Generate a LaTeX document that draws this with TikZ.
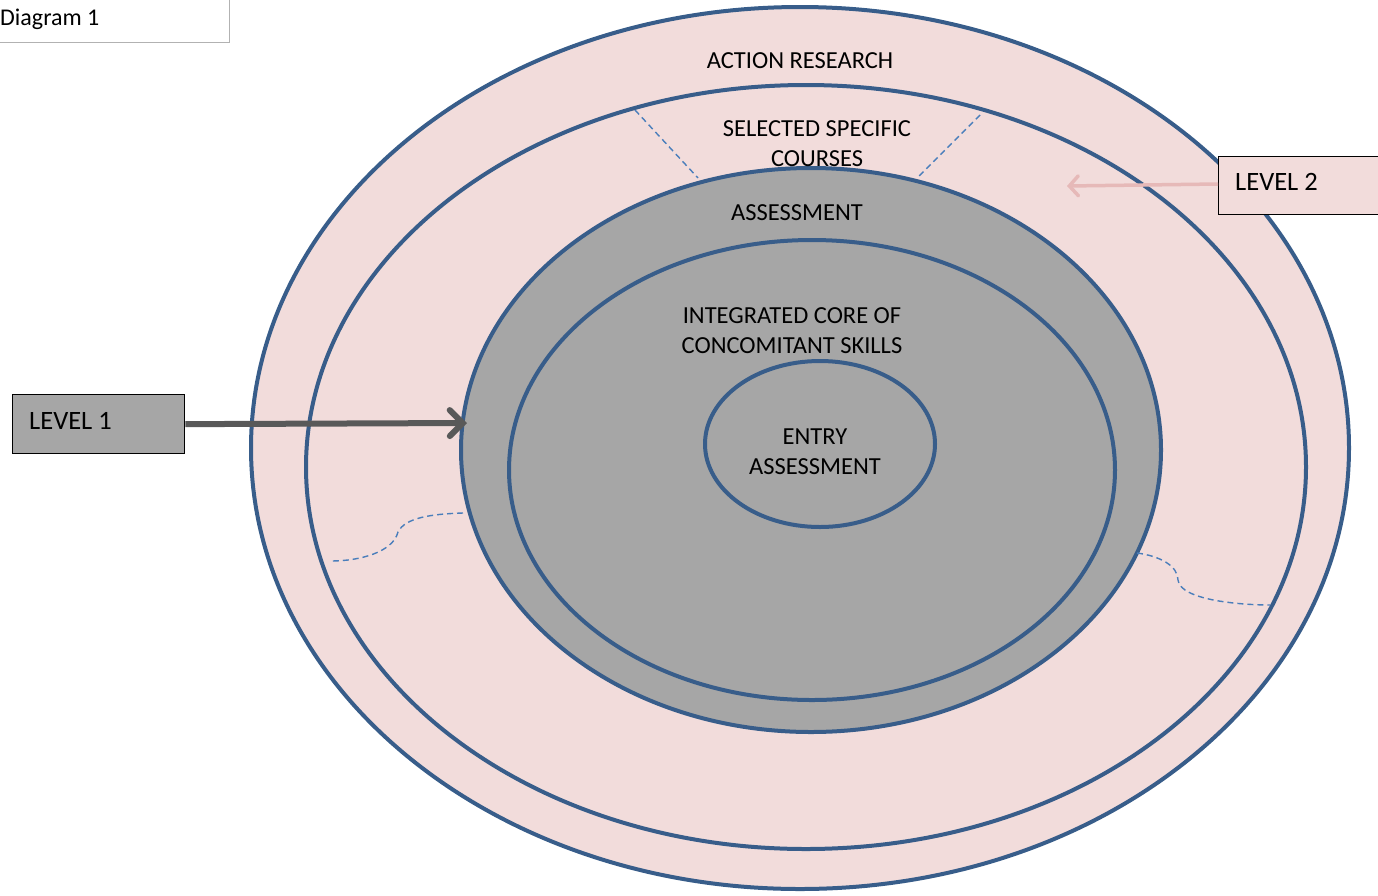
\documentclass[tikz,border=0pt]{standalone}
\usepackage{fontspec}
\setmainfont{Carlito}
\usetikzlibrary{arrows.meta}
\definecolor{pinkfill}{HTML}{F2DCDB}
\definecolor{grayfill}{HTML}{A6A6A6}
\definecolor{ringblue}{HTML}{385D8A}
\definecolor{dashblue}{HTML}{4A7EBB}
\definecolor{arrowgray}{HTML}{595959}
\definecolor{arrowpink}{HTML}{E6B9B8}
\tikzset{
  ring/.style={draw=ringblue, line width=4pt},
  divider/.style={draw=dashblue, line width=1.4pt, dash pattern=on 6pt off 4pt},
  lbl/.style={font=\fontsize{24.5}{30}\selectfont, align=center, inner sep=0pt},
  levelbox/.style={draw=black, line width=1.3pt, anchor=north west, inner sep=0pt},
  leveltext/.style={font=\fontsize{26.5}{30}\selectfont, anchor=west, inner sep=0pt},
}
\begin{document}
\begin{tikzpicture}[x=1pt,y=-1pt]
\useasboundingbox (0,0) rectangle (1378,895);
% rings
\path[ring, fill=pinkfill] (800,448) ellipse [x radius=549, y radius=441];
\path[ring, fill=pinkfill] (806,467) ellipse [x radius=500, y radius=382];
\path[ring, fill=grayfill] (811,450) ellipse [x radius=350, y radius=282];
\path[ring, fill=grayfill] (812,470) ellipse [x radius=303, y radius=230];
\path[ring, fill=grayfill] (820,444) ellipse [x radius=115, y radius=83];
% dividers
\coordinate (d1a) at (635,110); \coordinate (d1b) at (698,178);
\coordinate (d2a) at (980,115); \coordinate (d2b) at (917,178);
\draw[divider] (d1a) -- (d1b);
\draw[divider] (d2a) -- (d2b);
\coordinate (c1a) at (463,513); \coordinate (c1b) at (331,561);
\draw[divider] (c1a) .. controls (430,514) and (405,518) .. (398,532)
  .. controls (393,552) and (360,561) .. (c1b);
\coordinate (c2a) at (1137,553); \coordinate (c2b) at (1270,605);
\draw[divider] (c2a) .. controls (1160,556) and (1178,566) .. (1178,580)
  .. controls (1180,600) and (1240,605) .. (c2b);
% labels
\node[lbl] (ar) at (800,61) {ACTION RESEARCH};
\node[lbl] (ssc) at (817,144) {SELECTED SPECIFIC\\COURSES};
\node[lbl] (as) at (797,213) {ASSESSMENT};
\node[lbl] (icc) at (792,331) {INTEGRATED CORE OF\\CONCOMITANT SKILLS};
\node[lbl] (ea) at (815,452) {ENTRY\\ASSESSMENT};
% level boxes
\node[levelbox, fill=grayfill, minimum width=172pt, minimum height=59pt] (l1) at (12,394) {};
\node[leveltext] (l1t) at (29,421) {LEVEL 1};
\node[levelbox, fill=pinkfill, minimum width=165pt, minimum height=58pt] (l2) at (1218,156) {};
\node[leveltext] (l2t) at (1235,182) {LEVEL 2};
\node[draw=black!30, line width=1pt, fill=white, anchor=north east, minimum width=240pt, minimum height=43pt, inner sep=0pt] (dg) at (230,-1) {};
\node[leveltext, font=\fontsize{24}{28}\selectfont] (dgt) at (0,19) {Diagram 1};
% arrows
\coordinate (t1) at (467,423);
\draw[draw=arrowgray, line width=6pt, -{Straight Barb[length=13pt,width=26pt,line cap=round]}] (l1.east) -- (t1);
\coordinate (t2) at (1067,186);
\draw[draw=arrowpink, line width=3.5pt, -{Straight Barb[length=9pt,width=20pt,line cap=round]}] (l2.west |- 0,184) -- (t2);
\end{tikzpicture}
\end{document}
